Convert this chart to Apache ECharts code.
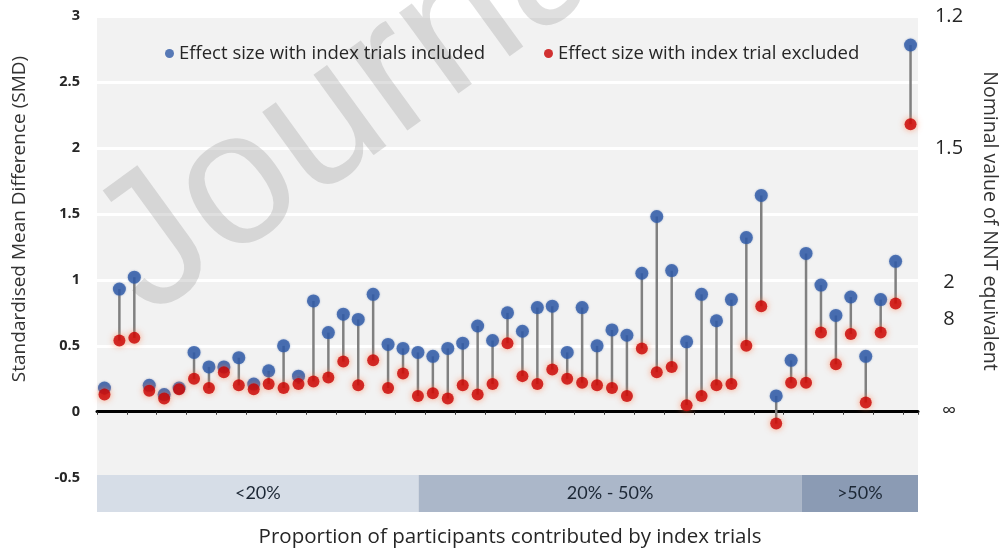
<!DOCTYPE html>
<html>
<head>
<meta charset="utf-8">
<script src="https://cdn.jsdelivr.net/npm/echarts@6/dist/echarts.min.js"></script>
<style>
html,body{margin:0;padding:0;background:#fff;}
#chart{width:1007px;height:551px;}
</style>
</head>
<body>
<div id="chart"></div>
<script>
// ---- data ----
const categories = ['1','2','3','4','5','6','7','8','9','10','11','12','13','14','15','16','17','18','19','20',
  '21','22','23','24','25','26','27','28','29','30','31','32','33','34','35','36','37','38','39','40',
  '41','42','43','44','45','46','47','48','49','50','51','52','53','54','55'];
const smdIncluded = [0.18,0.93,1.02,0.20,0.13,0.18,0.45,0.34,0.34,0.41,0.21,0.31,0.50,0.27,0.84,0.60,0.74,0.70,0.89,0.51,
  0.48,0.45,0.42,0.48,0.52,0.65,0.54,0.75,0.61,0.79,0.80,0.45,0.79,0.50,0.62,0.58,1.05,1.48,1.07,0.53,
  0.89,0.69,0.85,1.32,1.64,0.12,0.39,1.20,0.96,0.73,0.87,0.42,0.85,1.14,2.78];
const smdExcluded = [0.13,0.54,0.56,0.16,0.10,0.17,0.25,0.18,0.30,0.20,0.17,0.21,0.18,0.21,0.23,0.26,0.38,0.20,0.39,0.18,
  0.29,0.12,0.14,0.10,0.20,0.13,0.21,0.52,0.27,0.21,0.32,0.25,0.22,0.20,0.18,0.12,0.48,0.30,0.34,0.05,
  0.12,0.20,0.21,0.50,0.80,-0.09,0.22,0.22,0.60,0.36,0.59,0.07,0.60,0.82,2.18];
const leftTicks = [-0.5,0,0.5,1,1.5,2,2.5,3];
const gridTicks = [0.5,1,1.5,2,2.5,3];
const nntPositions = [3,2,0.98,0.7,0];
const nntLabels = ['1.2','1.5','2','8','\u221e'];
const bandLabels = ['<20%','20% - 50%','>50%'];
const bandEdges = [0,21.55,47.2,55];
const seriesNames = ['Effect size with index trials included','Effect size with index trial excluded'];

// ---- style ----
const FONT = 'Open Sans';
const bandColors = ['#d6dde7','#abb7c9','#8b9bb4'];
const BAND_TOP = -0.48, BAND_BOTTOM = -0.76;

const chart = echarts.init(document.getElementById('chart'), null, {renderer:'canvas'});

const option = {
  backgroundColor:'#ffffff',
  animation:false,
  textStyle:{fontFamily:FONT},
  grid:{left:97, top:16, width:821, height:496, show:true, backgroundColor:'#f2f2f2', borderWidth:0, containLabel:false},
  legend:[
    {data:[seriesNames[0]], left:160, top:39, icon:'circle', itemWidth:9, itemHeight:9, itemGap:6,
     textStyle:{fontSize:18.5, color:'#262626', fontFamily:FONT}},
    {data:[seriesNames[1]], left:539, top:39, icon:'circle', itemWidth:9, itemHeight:9, itemGap:6,
     textStyle:{fontSize:18.5, color:'#262626', fontFamily:FONT}}
  ],
  xAxis:[
    {type:'category', data:categories, boundaryGap:true,
     axisLine:{show:true, onZero:true, lineStyle:{color:'#000', width:3}},
     axisTick:{show:true, length:3, lineStyle:{color:'#333', width:1}},
     axisLabel:{show:false}, splitLine:{show:false}},
    {type:'value', min:0, max:55, position:'bottom',
     axisLine:{show:false, onZero:false}, axisTick:{show:false}, axisLabel:{show:false}, splitLine:{show:false}}
  ],
  yAxis:[
    {type:'value', min:-0.76, max:3, position:'left',
     axisLine:{show:false},
     axisTick:{show:false, customValues:gridTicks},
     axisLabel:{customValues:leftTicks, margin:17, fontSize:14.5, fontWeight:'bold', color:'#262626', fontFamily:FONT,
       formatter:v=>String(v)},
     splitLine:{show:true, lineStyle:{color:'#ffffff', width:3}}},
    {type:'value', min:-0.76, max:3, position:'right',
     axisLine:{show:false}, axisTick:{show:false, customValues:nntPositions},
     axisLabel:{customValues:nntPositions, margin:31, align:'center', fontSize:20, color:'#262626', fontFamily:FONT,
       formatter:v=>{const i=nntPositions.findIndex(p=>Math.abs(p-v)<1e-6); return i>=0?nntLabels[i]:'';}},
     splitLine:{show:false}}
  ],
  graphic:[
    {type:'text', x:118, y:276, rotation:36*Math.PI/180, z:1, silent:true,
     style:{text:'Journal Pre-proof', fontSize:190, fontFamily:'Liberation Sans', fill:'rgba(150,150,150,0.3)', align:'left', verticalAlign:'middle'}},
    {type:'text', x:20, y:219, rotation:Math.PI/2, z:5,
     style:{text:'Standardised Mean Difference (SMD)', fontSize:19, fontFamily:FONT, fill:'#333', align:'center', verticalAlign:'middle'}},
    {type:'text', x:990, y:221, rotation:-Math.PI/2, z:5,
     style:{text:'Nominal value of NNT equivalent', fontSize:19.5, fontFamily:FONT, fill:'#333', align:'center', verticalAlign:'middle'}},
    {type:'text', x:510, y:537, z:5,
     style:{text:'Proportion of participants contributed by index trials', fontSize:20.5, fontFamily:FONT, fill:'#262626', align:'center', verticalAlign:'middle'}}
  ],
  series:[
    {type:'custom', name:'bands', xAxisIndex:1, yAxisIndex:0, z:1,
     data: bandLabels.map((l,i)=>[bandEdges[i], bandEdges[i+1], i]),
     renderItem:(params, api)=>{
       const i = api.value(2);
       const p1 = api.coord([api.value(0), BAND_TOP]);
       const p2 = api.coord([api.value(1), BAND_BOTTOM]);
       return {type:'rect', shape:{x:p1[0], y:p1[1], width:p2[0]-p1[0], height:p2[1]-p1[1]},
         style:{fill:bandColors[i]},
         textContent:{style:{text:bandLabels[i], fontSize:18, fill:'#1c2735', fontFamily:'Lato'}},
         textConfig:{position:'inside'}};
     }},
    {type:'custom', name:'connectors', xAxisIndex:0, yAxisIndex:0, z:2,
     data: categories.map((c,i)=>[i, smdIncluded[i], smdExcluded[i]]),
     renderItem:(params, api)=>{
       const a = api.coord([api.value(0), api.value(1)]);
       const b = api.coord([api.value(0), api.value(2)]);
       return {type:'line', shape:{x1:a[0], y1:a[1], x2:b[0], y2:b[1]}, style:{stroke:'#808080', lineWidth:2.5}};
     }},
    {type:'scatter', name:seriesNames[0], xAxisIndex:0, yAxisIndex:0, z:3,
     data:smdIncluded, symbol:'circle', symbolSize:13,
     itemStyle:{color:'#2f5aa6', shadowBlur:2, shadowColor:'rgba(47,90,166,0.5)'}},
    {type:'scatter', name:seriesNames[1], xAxisIndex:0, yAxisIndex:0, z:4,
     data:smdExcluded, symbol:'circle', symbolSize:12,
     itemStyle:{color:'#c80000', shadowBlur:6, shadowColor:'rgba(255,120,70,0.85)'}}
  ]
};
chart.setOption(option);
</script>
</body>
</html>
